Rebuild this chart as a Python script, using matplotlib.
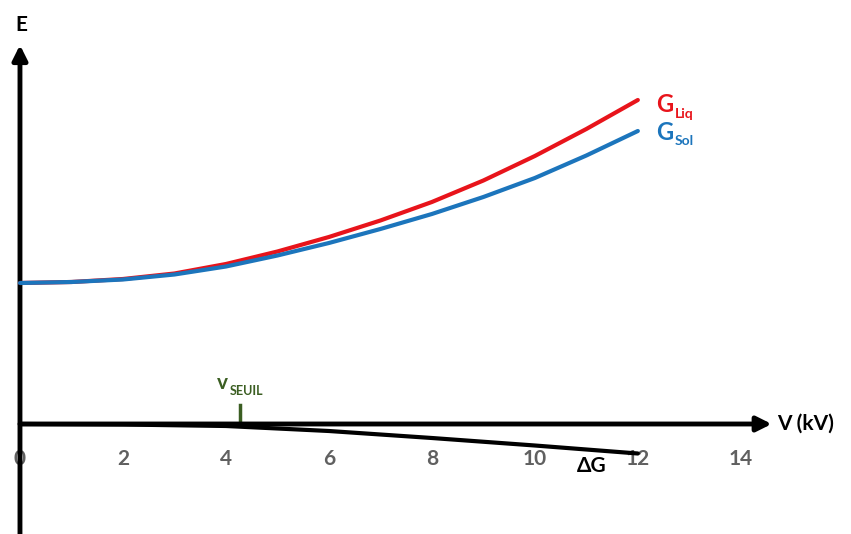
import matplotlib.pyplot as plt
import numpy as np

# values (E in arbitrary units)
v_kv = [0, 1, 2, 3, 4, 5, 6, 7, 8, 9, 10, 11, 12]
g_liq = [14.1, 14.2, 14.5, 15.05, 16.0, 17.25, 18.7, 20.35, 22.2, 24.35, 26.8, 29.5, 32.4]
g_sol = [14.1, 14.2, 14.45, 14.95, 15.75, 16.85, 18.1, 19.5, 21.0, 22.7, 24.6, 26.85, 29.3]
dg_v = [0, 2, 4, 6, 8, 10, 12]
delta_g = [0, -0.05, -0.2, -0.7, -1.4, -2.15, -2.95]
tick_values = [0, 2, 4, 6, 8, 10, 12, 14]
v_seuil = 4.27

red = '#e8141b'
blue = '#1c75bc'
green = '#3b5e22'
grey = '#606060'

plt.rcParams['font.family'] = ['Lato', 'DejaVu Sans']

fig = plt.figure(figsize=(8.51, 5.34), dpi=100)
ax = fig.add_axes([0, 0, 1, 1])
ax.set_xlim(-0.388, 16.14)
ax.set_ylim(-11.0, 42.4)
ax.axis('off')

# axes with arrows
ax.annotate('', xy=(14.6, 0), xytext=(0, 0),
            arrowprops=dict(arrowstyle='-|>', lw=3.5, color='k', mutation_scale=22,
                            shrinkA=0, shrinkB=0))
ax.annotate('', xy=(0, 37.9), xytext=(0, -11.5),
            arrowprops=dict(arrowstyle='-|>', lw=3.5, color='k', mutation_scale=22,
                            shrinkA=0, shrinkB=0))

# curves
ax.plot(v_kv, g_liq, color=red, lw=3, solid_capstyle='round', solid_joinstyle='round', zorder=3)
ax.plot(v_kv, g_sol, color=blue, lw=3, solid_capstyle='round', solid_joinstyle='round', zorder=3)
ax.plot(dg_v, delta_g, color='k', lw=3, solid_capstyle='round', solid_joinstyle='round', zorder=3)

# tick labels
for t in tick_values:
    ax.text(t, -3.5, str(t), color=grey, fontsize=15, fontweight='bold',
            ha='center', va='center', zorder=1)

# seuil tick
ax.plot([v_seuil, v_seuil], [0, 1.9], color=green, lw=2.5)
ax.text(v_seuil - 0.45, 4.1, 'v', color=green, fontsize=15, fontweight='bold',
        ha='left', va='center')
ax.text(v_seuil - 0.2, 3.3, 'SEUIL', color=green, fontsize=9, fontweight='bold',
        ha='left', va='center')

# labels
ax.text(0.02, 39.9, 'E', fontsize=15, fontweight='bold', ha='center', va='center')
ax.text(14.7, 0.0, 'V (kV)', fontsize=15, fontweight='bold', ha='left', va='center')
ax.text(11.1, -4.2, '\u0394G', fontsize=15, fontweight='bold', ha='center', va='center')

ax.text(12.35, 31.9, 'G', color=red, fontsize=17, fontweight='bold', ha='left', va='center')
ax.text(12.72, 31.0, 'Liq', color=red, fontsize=10, fontweight='bold', ha='left', va='center')
ax.text(12.35, 29.2, 'G', color=blue, fontsize=17, fontweight='bold', ha='left', va='center')
ax.text(12.72, 28.3, 'Sol', color=blue, fontsize=10, fontweight='bold', ha='left', va='center')

fig.savefig('out.png', dpi=100)
